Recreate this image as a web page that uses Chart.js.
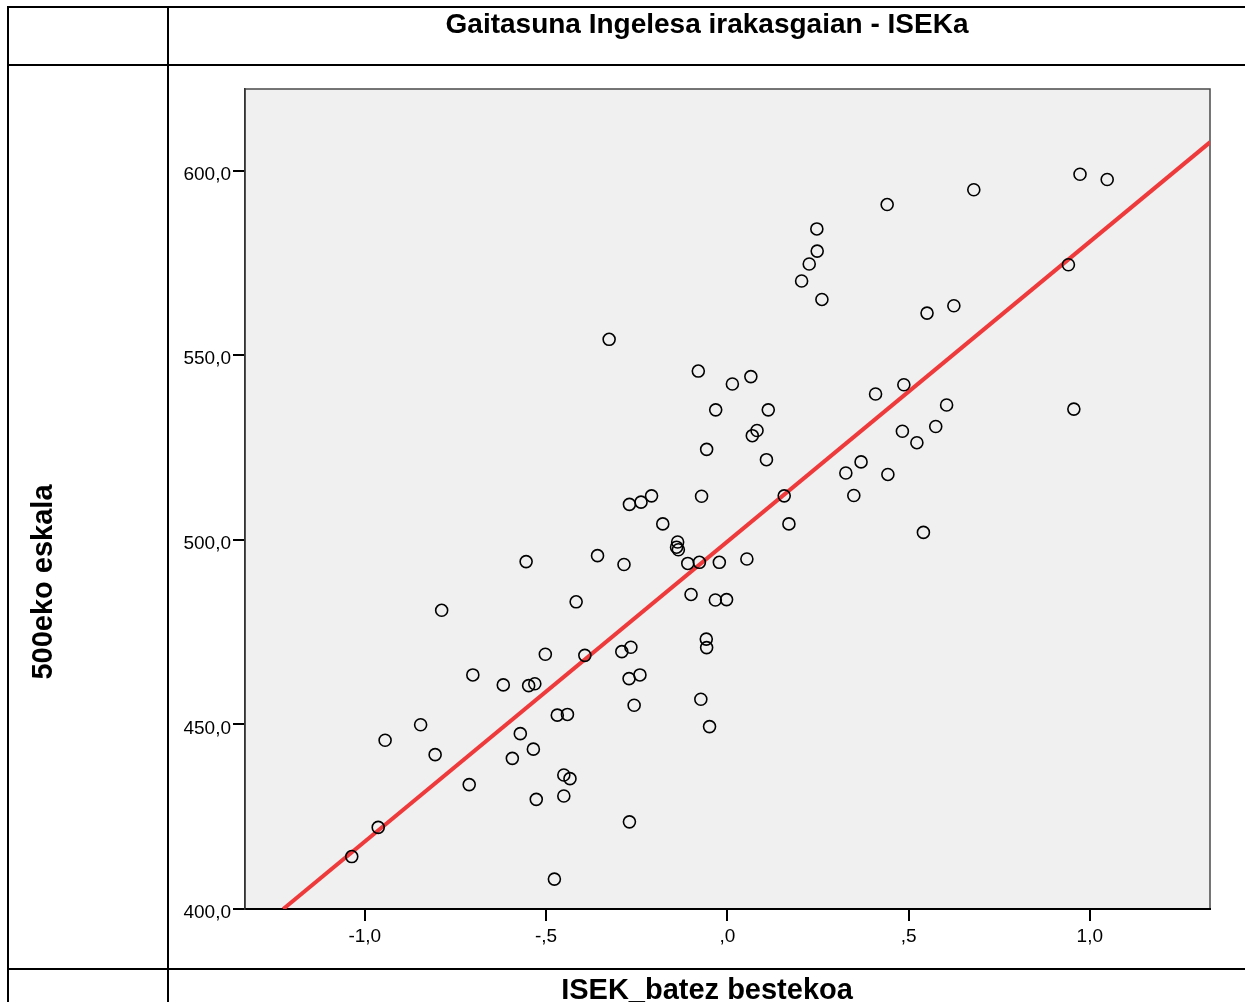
<!DOCTYPE html>
<html>
<head>
<meta charset="utf-8">
<title>Gaitasuna Ingelesa irakasgaian - ISEKa</title>
<script src="https://cdn.jsdelivr.net/npm/chart.js@4.4.1/dist/chart.umd.min.js"></script>
<style>
  html, body { margin: 0; padding: 0; background: #fff; }
  #wrap { width: 1245px; height: 1002px; }
</style>
</head>
<body>
<div id="wrap"><canvas id="scatterChart" width="1245" height="1002"></canvas></div>
<script>
const chartTitle = "Gaitasuna Ingelesa irakasgaian - ISEKa";
const xTitle = "ISEK_batez bestekoa";
const yTitle = "500eko eskala";

// ISEK average (x) and 500-scale score (y), one entry per school
const isekValues = [
  -1.036, -0.963, -0.944, -0.846, -0.806, -0.788, -0.712, -0.702, -0.618, -0.593,
  -0.571, -0.555, -0.548, -0.531, -0.535, -0.527, -0.502, -0.477, -0.469, -0.451,
  -0.451, -0.441, -0.434, -0.417, -0.393, -0.358, -0.326, -0.285, -0.291, -0.270,
  -0.271, -0.266, -0.270, -0.257, -0.241, -0.238, -0.209, -0.178, -0.137, -0.140,
  -0.135, -0.109, -0.100, -0.077, -0.080, -0.073, -0.071, -0.057, -0.058, -0.057,
  -0.049, -0.032, -0.033, -0.022, -0.002, 0.014, 0.054, 0.065, 0.069, 0.082,
  0.108, 0.113, 0.157, 0.170, 0.205, 0.226, 0.248, 0.247, 0.261, 0.327,
  0.349, 0.369, 0.409, 0.441, 0.443, 0.483, 0.487, 0.523, 0.541, 0.551,
  0.575, 0.605, 0.625, 0.680, 0.941, 0.956, 0.973, 1.048
];
const scoreValues = [
  414.2, 422.1, 445.7, 449.9, 441.8, 480.9, 433.7, 463.4, 460.7, 440.8,
  447.5, 494.1, 460.5, 461.0, 443.3, 429.7, 469.0, 408.1, 452.5, 436.3,
  430.6, 452.7, 435.3, 483.2, 468.7, 495.7, 554.3, 493.3, 469.7, 423.6,
  462.4, 470.9, 509.6, 455.2, 463.4, 510.2, 511.9, 504.3, 499.4, 498.0,
  497.3, 493.6, 485.2, 493.9, 545.7, 456.8, 511.8, 524.5, 473.1, 470.8,
  449.4, 535.2, 483.7, 493.9, 483.8, 542.2, 494.8, 544.2, 528.2, 529.6,
  521.7, 535.2, 511.9, 504.3, 570.1, 574.7, 578.2, 584.2, 565.1, 518.1,
  512.0, 521.1, 539.5, 590.8, 517.7, 529.4, 542.0, 526.3, 502.0, 561.4,
  530.7, 536.5, 563.4, 594.8, 574.5, 535.4, 599.0, 597.6
];

const xTickValues = [-1, -0.5, 0, 0.5, 1];
const xTickLabels = ["-1,0", "-,5", ",0", ",5", "1,0"];
const yTickValues = [400, 450, 500, 550, 600];
const yTickLabels = ["400,0", "450,0", "500,0", "550,0", "600,0"];

// linear fit line ends
const fitX = [-1.225, 1.332];
const fitY = [400, 607.7];

const FONT = "'Liberation Sans', Arial, sans-serif";

const framePlugin = {
  id: "frame",
  beforeDraw: (chart) => {
    const { ctx, chartArea } = chart;
    ctx.save();
    ctx.fillStyle = "#f0f0f0";
    ctx.fillRect(chartArea.left, chartArea.top, chartArea.right - chartArea.left, chartArea.bottom - chartArea.top);
    ctx.strokeStyle = "#4a4a4a";
    ctx.lineWidth = 1.5;
    ctx.strokeRect(chartArea.left, chartArea.top, chartArea.right - chartArea.left, chartArea.bottom - chartArea.top);
    ctx.restore();
  },
  afterDraw: (chart) => {
    const ctx = chart.ctx;
    ctx.save();
    // table lines around the plot
    ctx.strokeStyle = "#000";
    ctx.lineWidth = 2;
    ctx.beginPath();
    [7, 65, 969].forEach((y) => {
      ctx.moveTo(7, y);
      ctx.lineTo(1245, y);
    });
    [8, 168].forEach((x) => {
      ctx.moveTo(x, 6);
      ctx.lineTo(x, 1002);
    });
    ctx.stroke();

    ctx.fillStyle = "#000";
    ctx.textAlign = "center";
    ctx.textBaseline = "alphabetic";
    ctx.font = "bold 28px " + FONT;
    ctx.fillText(chartTitle, 707, 33);
    ctx.font = "bold 29px " + FONT;
    ctx.fillText(xTitle, 707, 999);

    ctx.translate(52, 582);
    ctx.rotate(-Math.PI / 2);
    ctx.fillText(yTitle, 0, 0);
    ctx.restore();
  },
};

const createScatter = () => {
  let canvasElement = document.getElementById("scatterChart");

  let points = isekValues.map((x, i) => ({ x: x, y: scoreValues[i] }));
  let fitPoints = fitX.map((x, i) => ({ x: x, y: fitY[i] }));

  let config = {
    type: "scatter",
    data: {
      datasets: [
        {
          label: "500eko eskala",
          data: points,
          pointStyle: "circle",
          pointRadius: 6,
          pointBorderWidth: 1.6,
          borderColor: "#000",
          backgroundColor: "rgba(0,0,0,0)",
          order: 0,
        },
        {
          type: "line",
          label: "Fit",
          data: fitPoints,
          borderColor: "#ef3a3c",
          borderWidth: 4,
          pointRadius: 0,
          fill: false,
          order: 1,
        },
      ],
    },
    options: {
      responsive: false,
      animation: false,
      devicePixelRatio: 1,
      layout: {
        padding: { left: 165, top: 89, right: 35, bottom: 43 },
      },
      plugins: {
        legend: { display: false },
        tooltip: { enabled: false },
      },
      scales: {
        x: {
          type: "linear",
          min: -1.3305,
          max: 1.3316,
          afterFit: (scale) => {
            scale.height = 50;
          },
          afterBuildTicks: (scale) => {
            scale.ticks = xTickValues.map((v) => ({ value: v }));
          },
          border: { display: true, color: "#000", width: 2 },
          grid: {
            drawOnChartArea: false,
            drawTicks: true,
            tickLength: 12,
            color: "#000",
            lineWidth: 2,
          },
          ticks: {
            padding: 4,
            color: "#000",
            font: { family: FONT, size: 19 },
            maxRotation: 0,
            callback: (value) => xTickLabels[xTickValues.indexOf(value)],
          },
        },
        y: {
          type: "linear",
          min: 400,
          max: 622.1,
          afterFit: (scale) => {
            scale.width = 80;
          },
          afterBuildTicks: (scale) => {
            scale.ticks = yTickValues.map((v) => ({ value: v }));
          },
          border: { display: true, color: "#333", width: 1.5 },
          grid: {
            drawOnChartArea: false,
            drawTicks: true,
            tickLength: 12,
            color: "#000",
            lineWidth: 2,
          },
          ticks: {
            padding: 2,
            labelOffset: 4,
            color: "#000",
            font: { family: FONT, size: 19 },
            callback: (value) => yTickLabels[yTickValues.indexOf(value)],
          },
        },
      },
    },
    plugins: [framePlugin],
  };
  new Chart(canvasElement, config);
};
createScatter();
</script>
</body>
</html>
